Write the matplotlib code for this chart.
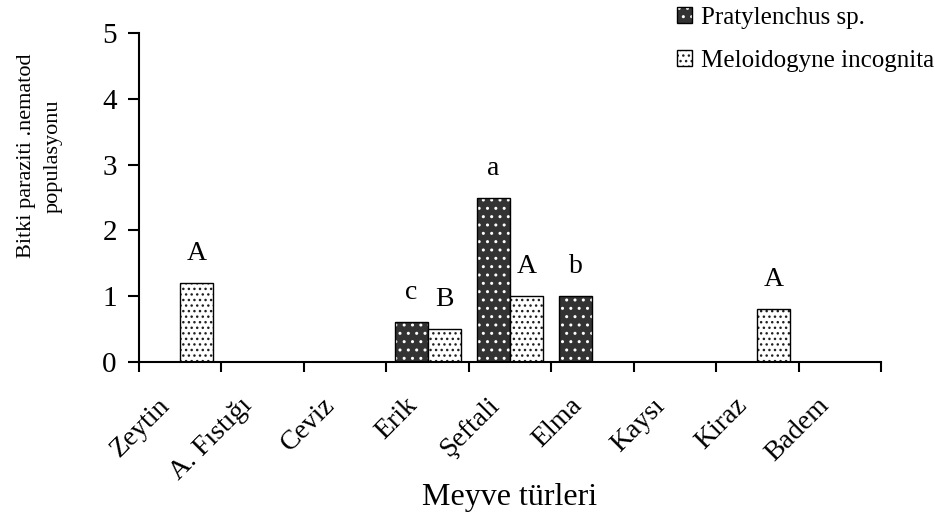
import numpy as np
import matplotlib
matplotlib.use('Agg')
import matplotlib.pyplot as plt
import matplotlib.transforms as mtransforms
from matplotlib.patches import Patch
from matplotlib.legend_handler import HandlerTuple

plt.rcParams['font.family'] = ['Liberation Serif', 'DejaVu Serif']
plt.rcParams['hatch.linewidth'] = 1.0

# meyve turleri ve nematod populasyonlari
meyve = ['Zeytin', 'A. Fıstığı', 'Ceviz', 'Erik', 'Şeftali', 'Elma', 'Kaysı', 'Kiraz', 'Badem']
pratylenchus = [0, 0, 0, 0.6, 2.5, 1.0, 0, 0, 0]
meloidogyne = [1.2, 0, 0, 0.5, 1.0, 0, 0, 0.8, 0]
harf_p = ['', '', '', 'c', 'a', 'b', '', '', '']
harf_m = ['A', '', '', 'B', 'A', '', '', 'A', '']
yticks = [0, 1, 2, 3, 4, 5]

koyu = '#333333'
w = 0.4

fig = plt.figure(figsize=(9.35, 5.21), dpi=100)
ax = fig.add_axes([0.1487, 0.3058, 0.7935, 0.6302])

x = np.arange(len(meyve)) + 0.5
xp = x - w / 2
xm = x + w / 2

# hatch layer first, black outline on top
ax.bar(xp, pratylenchus, w, color=koyu, edgecolor='white', hatch='..', linewidth=0)
ax.bar(xp, pratylenchus, w, fill=False, edgecolor='black', linewidth=1)
ax.bar(xm, meloidogyne, w, color='white', edgecolor='#202020', hatch='...', linewidth=0)
ax.bar(xm, meloidogyne, w, fill=False, edgecolor='black', linewidth=1)

for xi, h, t in zip(xp, pratylenchus, harf_p):
    if t:
        ax.annotate(t, (xi, h), xytext=(0, 16.5), textcoords='offset points',
                    ha='center', va='baseline', fontsize=20)
for xi, h, t in zip(xm, meloidogyne, harf_m):
    if t:
        ax.annotate(t, (xi, h), xytext=(0, 16.5), textcoords='offset points',
                    ha='center', va='baseline', fontsize=20)

ax.set_xlim(0, len(meyve))
ax.set_ylim(0, 5)
ax.set_yticks(yticks)
ax.set_xticks(np.arange(len(meyve) + 1))
ax.set_xticklabels([])

for s in ['top', 'right']:
    ax.spines[s].set_visible(False)
for s in ['left', 'bottom']:
    ax.spines[s].set_linewidth(1.5)
ax.tick_params(axis='y', direction='out', length=8, width=1.5, pad=8, labelsize=21)
ax.tick_params(axis='x', direction='out', length=7, width=1.5)

# category names, rotated
trans = mtransforms.offset_copy(ax.get_xaxis_transform(), fig=fig, x=-10, y=-29, units='points')
for xi, ad in zip(x, meyve):
    ax.text(xi, 0, ad, transform=trans, rotation=45, rotation_mode='anchor',
            ha='right', va='center', fontsize=20)

fig.text(40 / 935, 1 - 156 / 521, 'Bitki paraziti .nematod\npopulasyonu', rotation=90,
         ha='center', va='center', multialignment='center', fontsize=16, linespacing=1.55)
fig.text(510 / 935, 1 - 497 / 521, 'Meyve türleri', ha='center', va='center', fontsize=23)

h1 = (Patch(facecolor=koyu, edgecolor='white', hatch='..', linewidth=0),
      Patch(fill=False, edgecolor='black', linewidth=1))
h2 = (Patch(facecolor='white', edgecolor='#202020', hatch='...', linewidth=0),
      Patch(fill=False, edgecolor='black', linewidth=1))
fig.legend([h1, h2], ['Pratylenchus sp.', 'Meloidogyne incognita'],
           handler_map={tuple: HandlerTuple(ndivide=1, pad=0)},
           loc='upper left', bbox_to_anchor=(677 / 935, 1 - 7 / 521),
           frameon=False, fontsize=18, handlelength=0.6, handleheight=0.6,
           handletextpad=0.35, labelspacing=0.82, borderpad=0, borderaxespad=0)

fig.savefig('out.png', dpi=100)
